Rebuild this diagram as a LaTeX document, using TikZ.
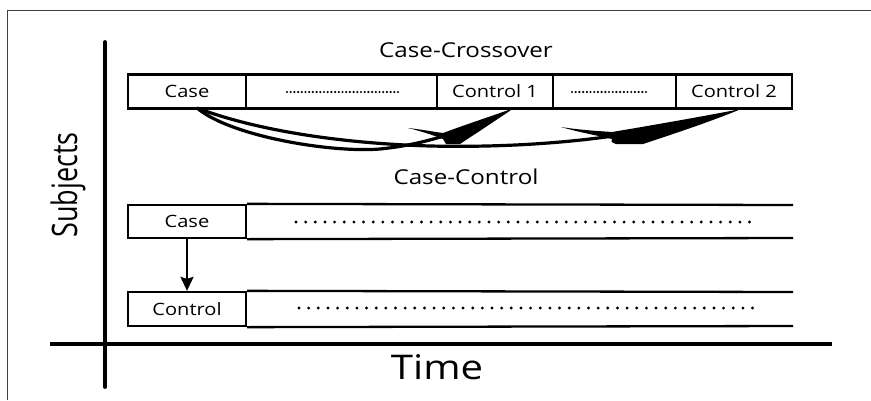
\documentclass[tikz,border=0pt]{standalone}
\usepackage{fontspec}
\setmainfont{Open Sans}
\usetikzlibrary{arrows.meta}
\newcommand{\sx}[2][1.18]{\scalebox{#1}[1]{#2}}
\begin{document}
\begin{tikzpicture}[x=1pt,y=-1pt,
  cell/.style={draw, line width=2.3pt, minimum height=34pt, inner sep=0pt, font=\fontsize{17}{20}\selectfont},
  rowline/.style={line width=2.3pt},
  axis/.style={line width=3.8pt},
  curv/.style={line width=3.2pt},
  tinydots/.style={line width=2.4pt, line cap=round, dash pattern=on 0pt off 3.7pt},
  bigdots/.style={line width=3.2pt, line cap=round, dash pattern=on 0pt off 9.65pt},
  title/.style={font=\fontsize{20.5}{24}\selectfont, inner sep=0pt}]
\useasboundingbox (0,0) rectangle (871,400);
% frame
\draw[black!75, line width=1pt] (7,400) -- (7,10) -- (871,10);
% axes
\draw[axis, line cap=round] (105,42) -- (105,387);
\draw[axis, line width=3.2pt] (50,344) -- (832,344);
\node[rotate=90, inner sep=0pt, font=\fontsize{27}{30}\selectfont] (subj) at (68,185) {\scalebox{1}[1.3]{Subjects}};
\node[inner sep=0pt, font=\fontsize{34}{40}\selectfont] (time) at (437,367) {\sx{Time}};
% titles
\node[title] (cco) at (466,50) {\sx{Case-Crossover}};
\node[title] (cct) at (466,177) {\sx{Case-Control}};
% top row
\node[cell, minimum width=118pt] (case1) at (187,91.5) {\sx{Case}};
\node[cell, minimum width=191pt] (gap1) at (341.5,91.5) {};
\node[cell, minimum width=116pt] (ctrl1) at (495,91.5) {\sx{Control 1}};
\node[cell, minimum width=123pt] (gap2) at (614.5,91.5) {};
\node[cell, minimum width=116pt] (ctrl2) at (734,91.5) {\sx{Control 2}};
\draw[tinydots] (287,92) -- (398,92);
\draw[tinydots] (572,92) -- (648,92);
% middle row
\node[cell, minimum width=118pt, minimum height=33pt] (case2) at (187,221.5) {\sx{Case}};
\coordinate (m1) at (793,205);
\coordinate (m2) at (793,238);
\draw[rowline] (case2.north east) -- (m1);
\draw[rowline] (case2.south east) -- (m2);
\draw[bigdots] (296,222) -- (758,222);
% bottom row
\node[cell, minimum width=118pt] (ctrl3) at (187,309) {\sx{Control}};
\coordinate (b1) at (793,292);
\coordinate (b2) at (793,326);
\draw[rowline] (ctrl3.north east) -- (b1);
\draw[rowline] (ctrl3.south east) -- (b2);
\draw[bigdots] (299,308) -- (761,308);
% case -> control
\draw[line width=2.2pt, -{Stealth[length=14pt, width=13pt, inset=2pt]}] (case2.south) -- (ctrl3.north);
% crossover arrows
\coordinate (s) at (197,108);
\coordinate (h1) at (444,136);
\coordinate (h2) at (613,136);
\draw[curv] (s) .. controls (230,136) and (330,153) .. (380,149) .. controls (410,146) and (430,140) .. (h1);
\draw[curv] (s) .. controls (250,128) and (330,143) .. (430,146) .. controls (520,148) and (585,140) .. (h2);
\fill (408,128) .. controls (425,130) and (435,132) .. (443,133)
  .. controls (470,123) and (495,115) .. (514,108)
  .. controls (495,121) and (472,136) .. (460,144)
  -- (446,144) .. controls (444,142) .. (443,139)
  .. controls (430,134) and (420,131) .. (408,128) -- cycle;
\fill (561,127) .. controls (580,130) and (598,131) .. (612,132)
  .. controls (660,124) and (710,115) .. (741,109)
  .. controls (710,122) and (667,136) .. (643,144)
  -- (616,144) .. controls (611,142) .. (612,139)
  .. controls (595,135) and (578,132) .. (561,127) -- cycle;
\end{tikzpicture}
\end{document}
